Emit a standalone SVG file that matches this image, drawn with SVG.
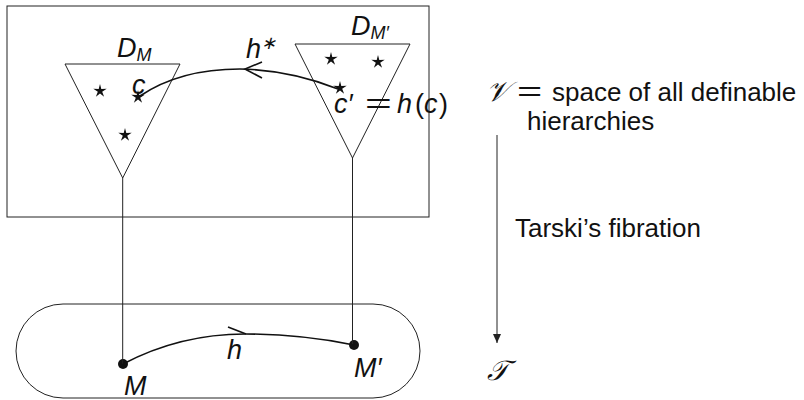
<svg xmlns="http://www.w3.org/2000/svg" width="804" height="400" viewBox="0 0 804 400">
<style>
.ln{fill:none;stroke:#222;stroke-width:1}
.cv{fill:none;stroke:#111;stroke-width:1.6}
.t{font-family:"Liberation Sans",Arial,sans-serif;font-size:26px;fill:#111}
.m{font-family:"Liberation Sans",Arial,sans-serif;font-style:italic;font-size:27px;fill:#111}
.s{font-size:18px}
.eq{font-family:"Liberation Sans",Arial,sans-serif;font-size:27px;fill:#111}
.cal{font-family:"Liberation Serif","DejaVu Serif",serif;font-style:italic;font-size:28px;fill:#111}
.star{fill:#111}
</style>
<defs>
<polygon id="star" points="0,-7 1.3,-1.9 6.7,-2.2 2.2,0.8 4.1,5.8 0,2.5 -4.1,5.8 -2.2,0.8 -6.7,-2.2 -1.3,-1.9"/>
<marker id="tri" markerWidth="10" markerHeight="10" refX="9" refY="5" orient="auto" markerUnits="userSpaceOnUse">
<path d="M0,1 L9,5 L0,9 Z" fill="#222"/>
</marker>
</defs>
<g id="V-box"><rect class="ln" x="7" y="6" width="422" height="211"/></g>
<g id="T-pill"><rect class="ln" x="16" y="304" width="404" height="94" rx="47" ry="47"/></g>
<g id="D_M">
<polygon class="ln" points="65,64 180,64 122.7,178"/>
<use href="#star" x="100" y="91" class="star"/>
<use href="#star" x="138" y="97" class="star"/>
<use href="#star" x="125" y="135" class="star"/>
<text class="m" x="117" y="57">D<tspan class="s" dy="4">M</tspan></text>
<text class="m" x="132" y="94">c</text>
</g>
<g id="D_Mprime">
<polygon class="ln" points="295,44 410,44 352.5,158"/>
<use href="#star" x="331" y="59" class="star"/>
<use href="#star" x="378" y="62" class="star"/>
<use href="#star" x="340" y="88" class="star"/>
<text class="m" x="351" y="35">D<tspan class="s" dy="4">M′</tspan></text>
<text class="m" y="113"><tspan x="334">c′</tspan></text>
<text class="eq" transform="translate(365,113) scale(1.7,1)">=</text>
<text class="m" y="113"><tspan x="397">h</tspan><tspan x="415" font-style="normal">(</tspan><tspan x="424">c</tspan><tspan x="439" font-style="normal">)</tspan></text>
</g>
<g id="M"><circle cx="123" cy="364" r="5" fill="#111"/><text class="m" x="124" y="395">M</text></g>
<g id="Mprime"><circle cx="354" cy="345" r="5" fill="#111"/><text class="m" x="354" y="377">M′</text></g>
<g id="labels">
<text class="cal" x="486" y="101">𝒱</text>
<text class="eq" transform="translate(517,101) scale(1.6,1)">=</text>
<text class="t" x="552" y="101">space of all definable</text>
<text class="t" x="527" y="130">hierarchies</text>
<text class="t" x="515" y="237">Tarski’s fibration</text>
<text class="cal" x="487" y="380">𝒯</text>
</g>
<g id="connectors">
<line class="ln" x1="122.7" y1="178" x2="122.7" y2="364"/>
<line class="ln" x1="352.5" y1="158" x2="352.5" y2="345"/>
<path class="cv" d="M123,364 Q180,334 245,334 Q300,334 354,345"/>
<path class="cv" d="M228,327 L246,334"/>
<text class="m" x="227" y="359">h</text>
<path class="cv" d="M338,89 Q290,70 240,69 Q180,69 140,96"/>
<path class="cv" d="M262,62 L245,69 L262,78"/>
<text class="m" x="246" y="58">h<tspan class="s" dy="-9">∗</tspan></text>
<line class="ln" x1="497" y1="135" x2="497" y2="343" marker-end="url(#tri)"/>
</g>
</svg>
